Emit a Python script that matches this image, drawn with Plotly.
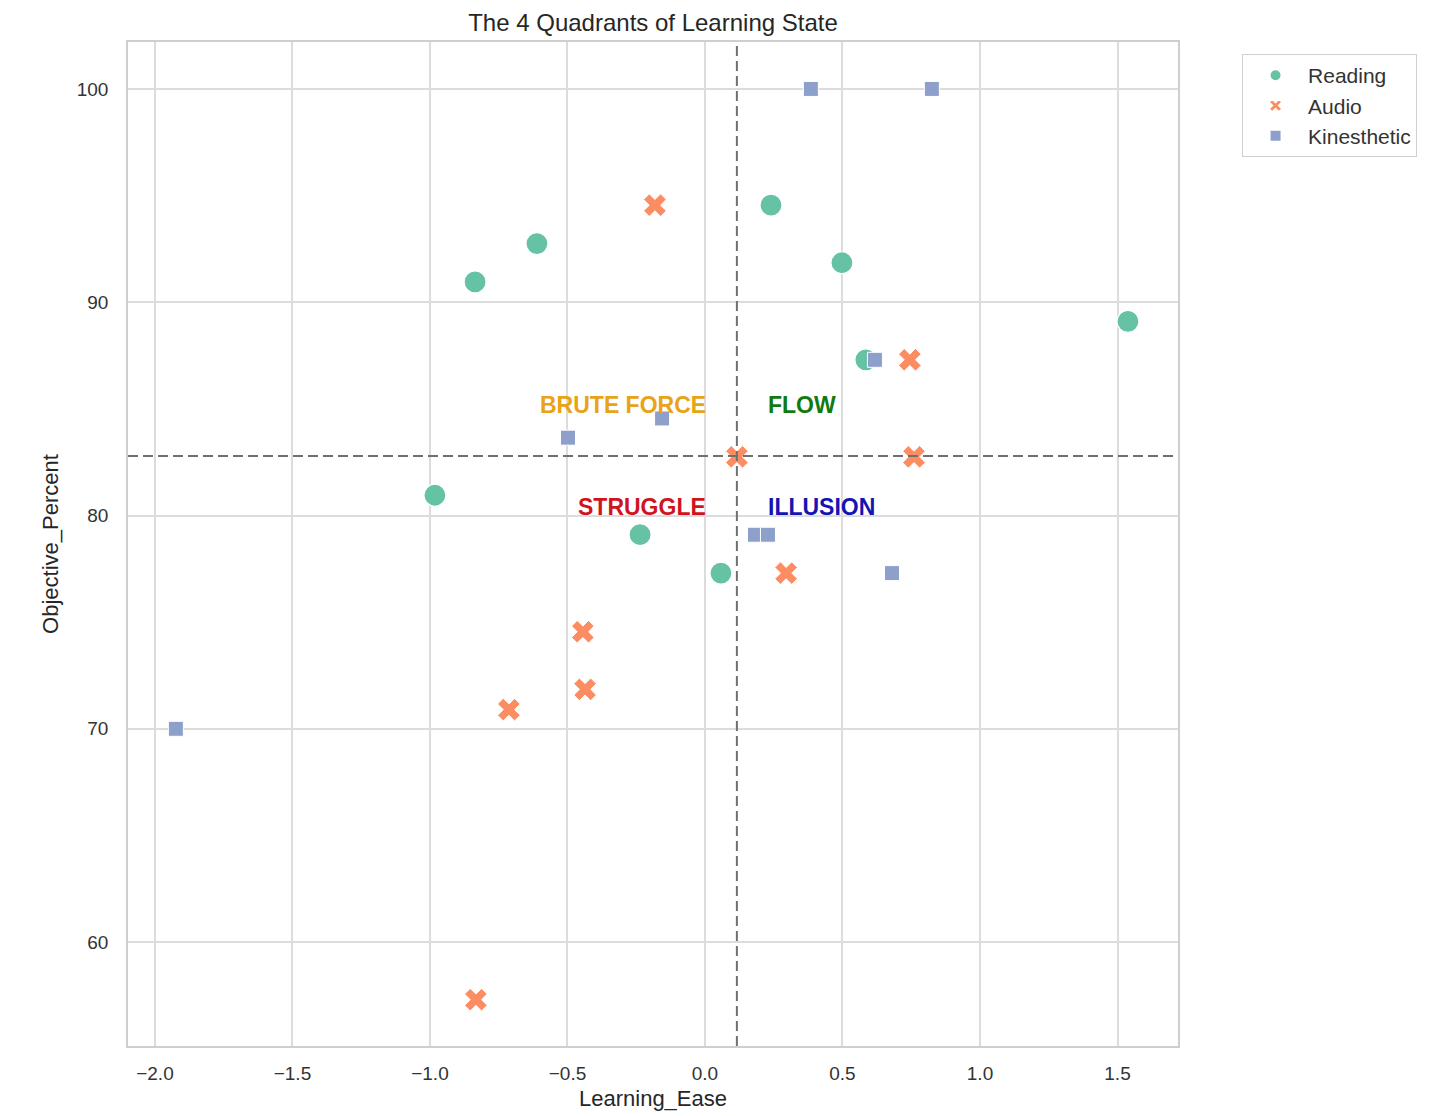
import plotly.graph_objects as go

# ---- data ----
reading_x = [-0.836, -0.611, 0.240, 0.498, 1.538, 0.585, -0.982, -0.236, 0.058]
reading_y = [90.95, 92.75, 94.55, 91.85, 89.10, 87.30, 80.95, 79.10, 77.30]

audio_x = [-0.182, 0.745, 0.116, 0.760, 0.295, -0.444, -0.436, -0.713, -0.833]
audio_y = [94.55, 87.30, 82.75, 82.75, 77.30, 74.55, 71.85, 70.90, 57.30]

kin_x = [0.385, 0.825, 0.618, -0.498, -0.156, 0.182, 0.229, 0.680, -1.924]
kin_y = [100.0, 100.0, 87.30, 83.65, 84.55, 79.10, 79.10, 77.30, 70.0]

x_split = 0.116
y_split = 82.79

quadrant_labels = ["BRUTE FORCE", "FLOW", "STRUGGLE", "ILLUSION"]
quadrant_colors = ["#e8a317", "#117a11", "#d0141e", "#1414b4"]

x_ticks = [-2.0, -1.5, -1.0, -0.5, 0.0, 0.5, 1.0, 1.5]
y_ticks = [60, 70, 80, 90, 100]

FONT = "Liberation Sans, Arial, sans-serif"

fig = go.Figure()
fig.add_trace(go.Scatter(x=reading_x, y=reading_y, mode="markers", name="Reading",
                         marker=dict(symbol="circle", size=22, color="#66c2a5",
                                     line=dict(color="white", width=1.2))))
fig.add_trace(go.Scatter(x=audio_x, y=audio_y, mode="markers", name="Audio",
                         marker=dict(symbol="x", size=20, color="#fc8d62",
                                     line=dict(color="white", width=1.0))))
fig.add_trace(go.Scatter(x=kin_x, y=kin_y, mode="markers", name="Kinesthetic",
                         marker=dict(symbol="square", size=15, color="#8da0cb",
                                     line=dict(color="white", width=1.0))))

# quadrant dividers
fig.add_shape(type="line", xref="x", yref="paper", x0=x_split, x1=x_split, y0=0, y1=1,
              line=dict(color="#707070", width=2, dash="10px,5px"), layer="above")
fig.add_shape(type="line", xref="paper", yref="y", x0=0, x1=1, y0=y_split, y1=y_split,
              line=dict(color="#707070", width=2, dash="10px,5px"), layer="above")

dx = 0.105
dy = 2.4
positions = [
    (x_split - dx, y_split + dy, "right"),
    (x_split + dx, y_split + dy, "left"),
    (x_split - dx, y_split - dy, "right"),
    (x_split + dx, y_split - dy, "left"),
]
for (ax, ay, anc), txt, col in zip(positions, quadrant_labels, quadrant_colors):
    fig.add_annotation(x=ax, y=ay, text=f"<b>{txt}</b>", showarrow=False,
                       xanchor=anc, yanchor="middle",
                       font=dict(family=FONT, size=23, color=col))

axis_common = dict(showgrid=True, gridcolor="#dcdcdc", gridwidth=1.5,
                   showline=True, linecolor="#cfcfcf", linewidth=1.5, mirror=True,
                   zeroline=False, ticks="",
                   tickfont=dict(family=FONT, size=19, color="#333333"))

fig.update_layout(
    width=1442, height=1116,
    margin=dict(l=120, r=272, t=34, b=78),
    paper_bgcolor="white", plot_bgcolor="white",
    title=dict(text="The 4 Quadrants of Learning State", xref="paper", x=0.5, xanchor="center",
               yref="paper", y=1, yanchor="bottom", pad=dict(b=11),
               font=dict(family=FONT, size=24, color="#262626")),
    xaxis=dict(range=[-2.098, 1.72], tickvals=x_ticks,
               ticktext=[f"{v:.1f}".replace("-", "\u2212") for v in x_ticks],
               ticklabelstandoff=9,
               title=dict(text="Learning_Ease", font=dict(family=FONT, size=22, color="#262626"),
                          standoff=8),
               **axis_common),
    yaxis=dict(range=[55.13, 102.2], tickvals=y_ticks,
               ticklabelstandoff=14,
               title=dict(text="Objective_Percent", font=dict(family=FONT, size=22, color="#262626"),
                          standoff=12),
               **axis_common),
    legend=dict(x=1.061, y=0.988, xanchor="left", yanchor="top",
                bordercolor="#d0d0d0", borderwidth=1, bgcolor="white",
                font=dict(family=FONT, size=21, color="#333333"),
                itemsizing="constant", itemwidth=55, tracegroupgap=0),
    showlegend=True,
)

fig.write_html("out.html")
